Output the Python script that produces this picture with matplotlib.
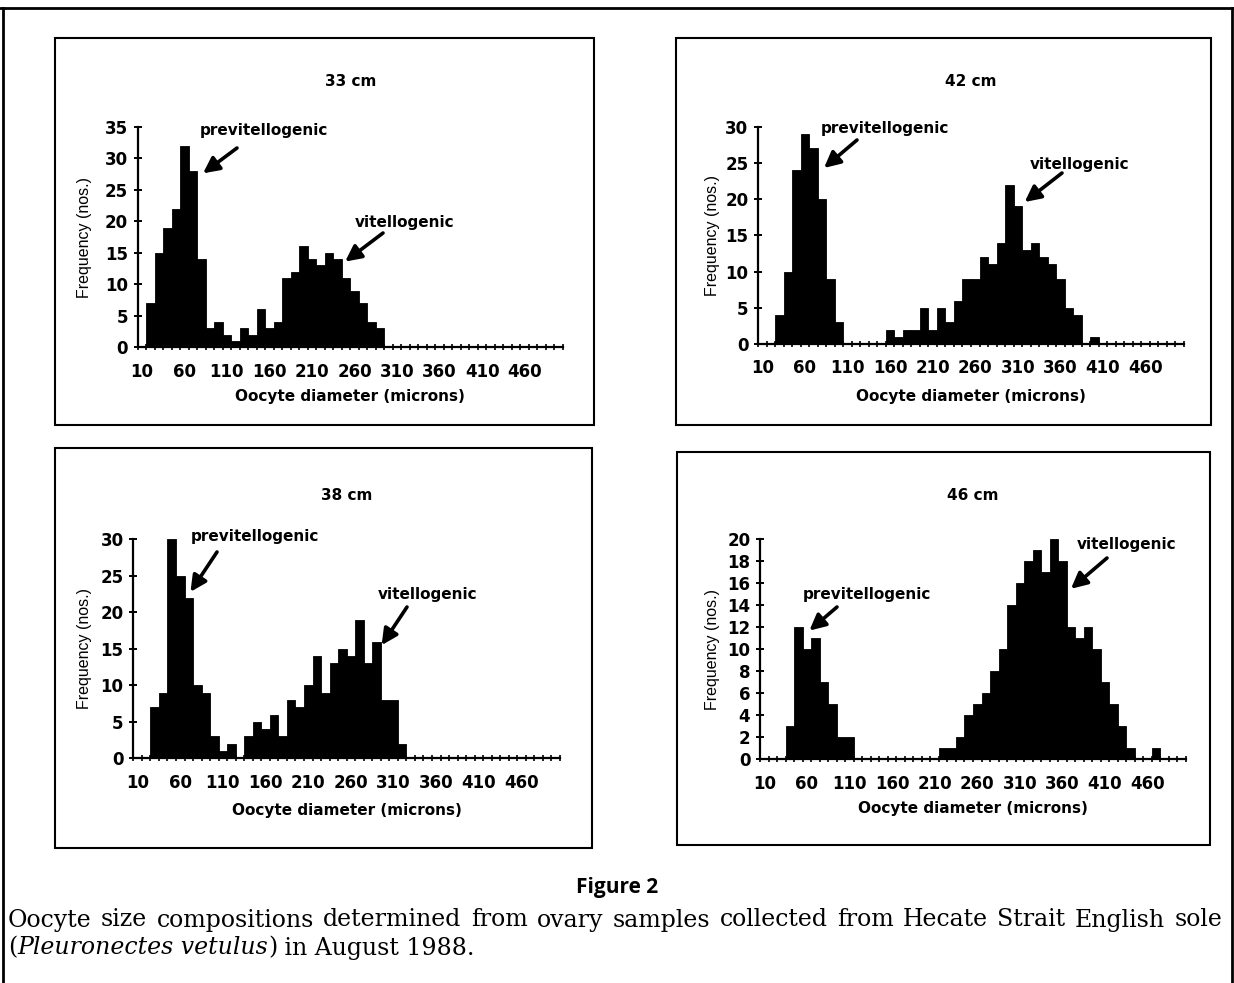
import matplotlib
matplotlib.use("Agg")
import numpy as np
import matplotlib.pyplot as plt
from matplotlib.patches import Rectangle
from matplotlib.lines import Line2D

W, H, DPI = 1234, 983, 100

# oocyte size classes (microns), 10-micron bins; every 5th one is labelled
SIZE_CLASSES = list(range(10, 501, 10))
TICK_LABELS = [str(c) for c in SIZE_CLASSES[::5]]

# frequencies, starting at the given size class
START_33 = 20
COUNTS_33 = [7, 15, 19, 22, 32, 28, 14, 3, 4, 2, 1, 3, 2, 6, 3, 4, 11, 12, 16, 14,
             13, 15, 14, 11, 9, 7, 4, 3]

START_42 = 30
COUNTS_42 = [4, 10, 24, 29, 27, 20, 9, 3, 0, 0, 0, 0, 0, 2, 1, 2, 2, 5, 2, 5,
             3, 6, 9, 9, 12, 11, 14, 22, 19, 13, 14, 12, 11, 9, 5, 4, 0, 1]

START_38 = 30
COUNTS_38 = [7, 9, 30, 25, 22, 10, 9, 3, 1, 2, 0, 3, 5, 4, 6, 3, 8, 7, 10, 14,
             9, 13, 15, 14, 19, 13, 16, 8, 8, 2]

START_46 = 40
COUNTS_46 = [3, 12, 10, 11, 7, 5, 2, 2, 0, 0, 0, 0, 0, 0, 0, 0, 0, 0, 1, 1,
             2, 4, 5, 6, 8, 10, 14, 16, 18, 19, 17, 20, 18, 12, 11, 12, 10, 7, 5, 3,
             1, 0, 0, 1]

TITLES = ["33 cm", "42 cm", "38 cm", "46 cm"]
YMAX = [35, 30, 30, 20]
YSTEP = [5, 5, 5, 2]

CHART_FONT = "DejaVu Sans"


def fx(x):
    return x / W


def fy(y):
    return 1 - y / H


def full_counts(start, counts):
    arr = np.zeros(len(SIZE_CLASSES))
    i0 = SIZE_CLASSES.index(start)
    arr[i0:i0 + len(counts)] = counts
    return arr


# layout in pixels: axes (left, right, baseline, top), panel box (x0, y0, x1, y1)
LAYOUT = [
    dict(axes=(137.5, 563, 347.3, 126.7), box=(55, 38, 594, 425), title_y=81,
         xlab_y=396, ylab_x=84),
    dict(axes=(758, 1184, 344, 126.7), box=(676, 38, 1211, 425), title_y=81,
         xlab_y=396, ylab_x=712),
    dict(axes=(133.3, 560, 758.3, 539.3), box=(55, 448, 592, 848), title_y=495,
         xlab_y=810, ylab_x=84),
    dict(axes=(760, 1186, 759.3, 539.3), box=(677, 452, 1210, 845), title_y=495,
         xlab_y=808, ylab_x=713),
]

# (label, arrow tip in data coords, arrow tail px, label centre px)
NOTES = [
    [("previtellogenic", (7.7, 27.6), (237, 148), (264, 131)),
     ("vitellogenic", (24.4, 13.6), (383, 233), (405, 223))],
    [("previtellogenic", (7.75, 24.3), (857, 140), (885, 128)),
     ("vitellogenic", (31.3, 19.6), (1062, 173), (1080, 165))],
    [("previtellogenic", (6.7, 22.8), (217, 552), (255, 536)),
     ("vitellogenic", (29.1, 15.5), (407, 607), (428, 595))],
    [("previtellogenic", (5.8, 11.7), (837, 607), (867, 595)),
     ("vitellogenic", (36.5, 15.5), (1107, 558), (1127, 545))],
]

data = [full_counts(START_33, COUNTS_33), full_counts(START_42, COUNTS_42),
        full_counts(START_38, COUNTS_38), full_counts(START_46, COUNTS_46)]

fig = plt.figure(figsize=(W / DPI, H / DPI), dpi=DPI)

# outer frame of the printed page
fig.add_artist(Line2D([fx(0), fx(W)], [fy(8), fy(8)], color="black", lw=2))
fig.add_artist(Line2D([fx(3), fx(3)], [fy(8), fy(H)], color="black", lw=2))
fig.add_artist(Line2D([fx(1232), fx(1232)], [fy(8), fy(H)], color="black", lw=2))

x = np.arange(len(SIZE_CLASSES))

for i in range(4):
    lay = LAYOUT[i]
    left, right, base, top = lay["axes"]
    bx0, by0, bx1, by1 = lay["box"]
    fig.add_artist(Rectangle((fx(bx0), fy(by1)), fx(bx1 - bx0), (by1 - by0) / H,
                             fill=False, edgecolor="black", lw=1.5))

    ax = fig.add_axes([fx(left), fy(base), fx(right - left), (base - top) / H])
    ax.bar(x, data[i], width=1.0, align="edge", color="black", edgecolor="black", linewidth=0.6)
    ax.set_xlim(0, len(SIZE_CLASSES))
    ax.set_ylim(0, YMAX[i])

    for s in ["top", "right"]:
        ax.spines[s].set_visible(False)
    for s in ["left", "bottom"]:
        ax.spines[s].set_linewidth(1.6)

    # category axis: ticks between classes, labels under every 5th class
    ax.set_xticks(np.arange(len(SIZE_CLASSES) + 1))
    ax.set_xticks(np.arange(0, len(SIZE_CLASSES), 5) + 0.5, minor=True)
    ax.set_xticklabels(TICK_LABELS, minor=True)
    ax.tick_params(axis="x", which="major", direction="inout", length=5, width=1.2,
                   labelbottom=False)
    ax.tick_params(axis="x", which="minor", length=0, pad=11)
    ax.set_yticks(np.arange(0, YMAX[i] + 1, YSTEP[i]))
    ax.tick_params(axis="y", direction="inout", length=6, width=1.4, pad=4)
    for lab in ax.get_xticklabels(minor=True) + ax.get_yticklabels():
        lab.set_fontfamily(CHART_FONT)
        lab.set_fontweight("bold")
        lab.set_fontsize(12)

    ax.set_xlabel("Oocyte diameter (microns)", fontfamily=CHART_FONT, fontweight="bold",
                  fontsize=11)
    ax.xaxis.set_label_coords(0.5, (base - lay["xlab_y"]) / (base - top))
    ax.set_ylabel("Frequency (nos.)", fontfamily=["Liberation Sans Narrow", "Liberation Sans"],
                  fontsize=11.5)
    ax.yaxis.set_label_coords((lay["ylab_x"] - left) / (right - left), 0.5)
    ax.xaxis.label.set_va("center")
    ax.yaxis.label.set_va("center")

    fig.text(fx((left + right) / 2), fy(lay["title_y"]), TITLES[i], ha="center", va="center",
             fontfamily=CHART_FONT, fontweight="bold", fontsize=11)

    for label, tip, tail, pos in NOTES[i]:
        ax.annotate("", xy=tip, xycoords="data", xytext=(fx(tail[0]), fy(tail[1])),
                    textcoords="figure fraction", annotation_clip=False,
                    arrowprops=dict(arrowstyle="-|>", color="black", lw=2.6,
                                    mutation_scale=24, shrinkA=0, shrinkB=0))
        fig.text(fx(pos[0]), fy(pos[1]), label, ha="center", va="center",
                 fontfamily=CHART_FONT, fontweight="bold", fontsize=11)

# caption
fig.text(fx(617), fy(888), "Figure 2", ha="center", va="center",
         fontfamily="Open Sans", fontweight="bold", fontsize=15)

renderer = fig.canvas.get_renderer()
CAP_FONT = dict(fontfamily="DejaVu Serif", fontsize=17)


def text_width(s, **kw):
    t = fig.text(0, 0, s, **kw)
    w = t.get_window_extent(renderer=renderer).width
    t.remove()
    return w


# first line is justified between the page margins
words = "Oocyte size compositions determined from ovary samples collected from Hecate Strait English sole".split()
widths = [text_width(w, **CAP_FONT) for w in words]
x0, x1 = 8, 1222
gap = (x1 - x0 - sum(widths)) / (len(words) - 1)
xpos = x0
for w, wd in zip(words, widths):
    fig.text(fx(xpos), fy(920), w, ha="left", va="center", **CAP_FONT)
    xpos += wd + gap

runs = [("(", "normal"), ("Pleuronectes vetulus", "italic"), (")", "normal"),
        (" in August 1988.", "normal")]
xpos = 8
for s, style in runs:
    fig.text(fx(xpos), fy(948), s, ha="left", va="center", fontstyle=style, **CAP_FONT)
    xpos += text_width(s, fontstyle=style, **CAP_FONT)

fig.savefig("out.png", dpi=DPI)
